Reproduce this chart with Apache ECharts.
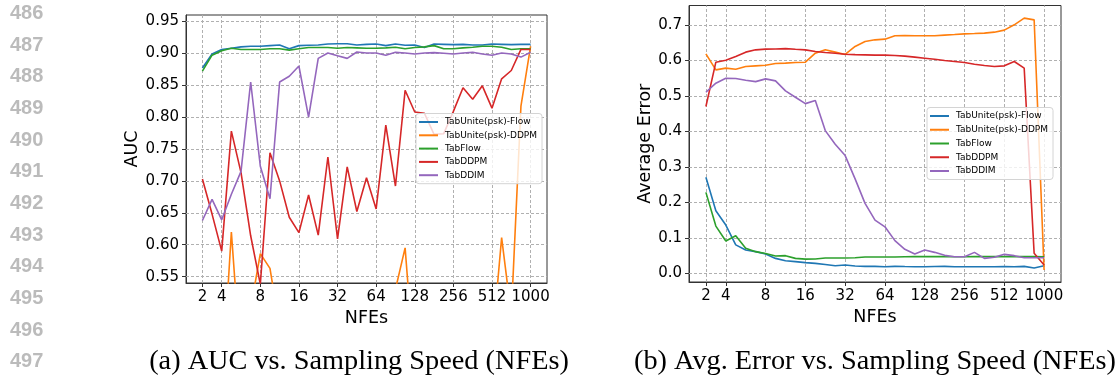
<!DOCTYPE html>
<html>
<head>
<meta charset="utf-8">
<script src="https://cdn.jsdelivr.net/npm/echarts@6/dist/echarts.min.js"></script>
<style>
  html, body { margin: 0; padding: 0; background: #fff; }
  #chart { width: 1116px; height: 383px; }
</style>
</head>
<body>
<div id="chart"></div>
<script>
// x positions are point indices; NFE tick labels sit on some of them
const nfeLabels = ['2', '4', '8', '16', '32', '64', '128', '256', '512', '1000']
const nfeTickIndex = [0, 2, 6, 10, 14, 18, 22, 26, 30, 34]
const seriesNames = ['TabUnite(psk)-Flow', 'TabUnite(psk)-DDPM', 'TabFlow', 'TabDDPM', 'TabDDIM']
const colors = ['#1f77b4', '#ff7f0e', '#2ca02c', '#d62728', '#9467bd']

const aucTicks = [0.55, 0.6, 0.65, 0.7, 0.75, 0.8, 0.85, 0.9, 0.95]
const errTicks = [0, 0.1, 0.2, 0.3, 0.4, 0.5, 0.6, 0.7]

// (a) AUC
const aucUniteFlow = [0.877, 0.899, 0.906, 0.908, 0.910, 0.911, 0.911, 0.912, 0.913, 0.907, 0.912, 0.9125, 0.913, 0.9145, 0.915, 0.915, 0.913, 0.914, 0.9145, 0.912, 0.9145, 0.9125, 0.913, 0.909, 0.9145, 0.914, 0.9135, 0.914, 0.913, 0.913, 0.9145, 0.914, 0.9135, 0.914, 0.914]
const aucUniteDdpm = [0.45, 0.47, 0.37, 0.620, 0.41, 0.50, 0.586, 0.563, 0.47, 0.45, 0.48, 0.46, 0.44, 0.47, 0.45, 0.46, 0.48, 0.45, 0.47, 0.46, 0.53, 0.595, 0.40, 0.45, 0.47, 0.46, 0.44, 0.47, 0.45, 0.46, 0.44, 0.611, 0.49, 0.817, 0.911]
const aucFlow = [0.872, 0.897, 0.904, 0.908, 0.906, 0.906, 0.906, 0.907, 0.907, 0.905, 0.907, 0.909, 0.909, 0.909, 0.908, 0.909, 0.9085, 0.908, 0.908, 0.9085, 0.9095, 0.907, 0.909, 0.910, 0.912, 0.907, 0.907, 0.9085, 0.9095, 0.911, 0.911, 0.9095, 0.906, 0.907, 0.907]
const aucDdpm = [0.703, 0.648, 0.590, 0.778, 0.713, 0.614, 0.538, 0.744, 0.700, 0.643, 0.619, 0.678, 0.615, 0.7375, 0.609, 0.722, 0.652, 0.705, 0.656, 0.7875, 0.692, 0.842, 0.808, 0.806, 0.773, 0.774, 0.809, 0.846, 0.828, 0.849, 0.814, 0.860, 0.873, 0.906, 0.906]
const aucDdim = [0.638, 0.671, 0.639, 0.679, 0.715, 0.855, 0.723, 0.672, 0.855, 0.864, 0.880, 0.800, 0.892, 0.9005, 0.896, 0.892, 0.902, 0.9005, 0.9005, 0.897, 0.9015, 0.9005, 0.899, 0.9005, 0.901, 0.900, 0.899, 0.9005, 0.9015, 0.899, 0.897, 0.9005, 0.899, 0.894, 0.9015]

// (b) average error
const errUniteFlow = [0.2705, 0.176, 0.136, 0.080, 0.0656, 0.061, 0.0543, 0.042, 0.0355, 0.033, 0.030, 0.028, 0.025, 0.0214, 0.0233, 0.0205, 0.0195, 0.0195, 0.0186, 0.0195, 0.019, 0.0186, 0.0186, 0.019, 0.0195, 0.0186, 0.0186, 0.0186, 0.0186, 0.0186, 0.019, 0.0186, 0.0195, 0.0149, 0.0214]
const errUniteDdpm = [0.618, 0.573, 0.578, 0.575, 0.5825, 0.5844, 0.586, 0.591, 0.592, 0.5938, 0.5947, 0.620, 0.6295, 0.623, 0.6164, 0.639, 0.653, 0.6577, 0.6596, 0.669, 0.670, 0.669, 0.669, 0.669, 0.671, 0.6727, 0.6746, 0.6755, 0.6765, 0.6793, 0.685, 0.700, 0.7188, 0.714, 0.0092]
const errFlow = [0.228, 0.133, 0.091, 0.106, 0.0703, 0.061, 0.056, 0.0487, 0.0497, 0.042, 0.040, 0.0405, 0.043, 0.043, 0.043, 0.044, 0.046, 0.046, 0.046, 0.046, 0.0465, 0.047, 0.047, 0.047, 0.047, 0.0465, 0.0465, 0.047, 0.047, 0.047, 0.047, 0.047, 0.047, 0.047, 0.0468]
const errDdpm = [0.470, 0.5947, 0.600, 0.6107, 0.623, 0.6295, 0.6314, 0.632, 0.633, 0.631, 0.6295, 0.625, 0.622, 0.620, 0.617, 0.616, 0.6154, 0.6145, 0.6145, 0.6136, 0.6117, 0.609, 0.606, 0.603, 0.5994, 0.5966, 0.5938, 0.589, 0.5853, 0.5825, 0.5844, 0.5966, 0.5778, 0.0562, 0.0233]
const errDdim = [0.510, 0.5355, 0.5496, 0.5487, 0.544, 0.540, 0.5477, 0.542, 0.514, 0.496, 0.478, 0.4867, 0.402, 0.3635, 0.3316, 0.266, 0.197, 0.150, 0.131, 0.092, 0.0675, 0.0543, 0.0656, 0.059, 0.0506, 0.0468, 0.0468, 0.059, 0.042, 0.045, 0.0534, 0.0497, 0.044, 0.044, 0.044]

const aucSeries = [aucUniteFlow, aucUniteDdpm, aucFlow, aucDdpm, aucDdim]
const errSeries = [errUniteFlow, errUniteDdpm, errFlow, errDdpm, errDdim]

const lineNumbers = ['486', '487', '488', '489', '490', '491', '492', '493', '494', '495', '496', '497']
const captions = ['(a) AUC vs. Sampling Speed (NFEs)', '(b) Avg. Error vs. Sampling Speed (NFEs)']

const FONT = 'DejaVu Sans'
const gridStyle = { color: '#b0b0b0', type: [3, 2], width: 1, opacity: 1 }

function xAxisFor(gridIndex) {
  return {
    type: 'value', gridIndex, min: -1.7, max: 35.7,
    name: 'NFEs', nameLocation: 'middle', nameGap: 25,
    nameTextStyle: { fontFamily: FONT, fontSize: 17.5, color: '#000' },
    axisLine: { show: true, onZero: false, lineStyle: { color: '#333' } },
    axisTick: { show: true, length: 4, customValues: nfeTickIndex, lineStyle: { color: '#333' } },
    axisLabel: {
      customValues: nfeTickIndex, margin: 7, fontFamily: FONT, fontSize: 15, color: '#000',
      formatter: v => nfeLabels[nfeTickIndex.indexOf(v)]
    },
    splitLine: { show: false }
  }
}

function yAxisFor(gridIndex, name, min, max, ticks, digits, gap) {
  return {
    type: 'value', gridIndex, min, max,
    name, nameLocation: 'middle', nameGap: gap,
    nameTextStyle: { fontFamily: FONT, fontSize: 17.5, color: '#000' },
    axisLine: { show: true, onZero: false, lineStyle: { color: '#333' } },
    axisTick: { show: true, length: 4, customValues: ticks, lineStyle: { color: '#333' } },
    axisLabel: {
      customValues: ticks, margin: 7, fontFamily: FONT, fontSize: 15, color: '#000',
      formatter: v => v.toFixed(digits)
    },
    splitLine: { show: false }
  }
}

// dashed grid drawn as mark lines at the tick values, kept under the data lines
function gridMarks(yTicks) {
  return {
    silent: true, symbol: 'none', label: { show: false }, animation: false, z: 1,
    lineStyle: gridStyle,
    data: [...nfeTickIndex.map(v => ({ xAxis: v })), ...yTicks.map(v => ({ yAxis: v }))]
  }
}

function lineSeries(values, k, axisIndex, yTicks) {
  const s = {
    name: seriesNames[k], type: 'line', z: 2,
    xAxisIndex: axisIndex, yAxisIndex: axisIndex,
    data: values.map((v, i) => [i, v]),
    symbol: 'none', showSymbol: false, clip: true,
    lineStyle: { color: colors[k], width: 1.6 },
    itemStyle: { color: colors[k] },
    emphasis: { disabled: true }
  }
  if (k === 0) s.markLine = gridMarks(yTicks)
  return s
}

function legendFor(left, top, gap) {
  return {
    data: seriesNames.map(name => ({ name, icon: 'rect' })),
    orient: 'vertical', left, top, z: 10,
    itemWidth: 19, itemHeight: 2, itemGap: gap,
    padding: [4, 5, 4, 3],
    backgroundColor: 'rgba(255,255,255,0.8)',
    borderColor: '#d4d4d4', borderWidth: 1, borderRadius: 3,
    textStyle: { fontFamily: FONT, fontSize: 9, lineHeight: 9, color: '#000', padding: [0, 0, 0, 2] }
  }
}

const graphics = lineNumbers.map((t, k) => ({
  type: 'text', x: 10, y: 13.5 + k * 31.65, silent: true,
  style: {
    text: t, fill: '#bbbbbb', font: 'bold 20px "Liberation Sans"',
    textAlign: 'left', align: 'left', textVerticalAlign: 'middle', verticalAlign: 'middle'
  }
}))
const captionX = [359, 875]
captions.forEach((t, k) => graphics.push({
  type: 'text', x: captionX[k], y: 362, silent: true,
  style: {
    text: t, fill: '#000', font: '28.3px "Liberation Serif"',
    textAlign: 'center', align: 'center', textVerticalAlign: 'middle', verticalAlign: 'middle'
  }
}))

const chart = echarts.init(document.getElementById('chart'))
chart.setOption({
  animation: false,
  backgroundColor: '#fff',
  grid: [
    { left: 186, top: 15, width: 361, height: 268, show: true, borderColor: '#333', borderWidth: 1, outerBoundsMode: 'none' },
    { left: 689, top: 5.5, width: 372, height: 276.5, show: true, borderColor: '#333', borderWidth: 1, outerBoundsMode: 'none' }
  ],
  xAxis: [xAxisFor(0), xAxisFor(1)],
  yAxis: [
    yAxisFor(0, 'AUC', 0.54, 0.96, aucTicks, 2, 45),
    yAxisFor(1, 'Average Error', -0.0245, 0.7544, errTicks, 1, 35)
  ],
  legend: [legendFor(416, 113.5, 4.3), legendFor(927, 107.5, 4.75)],
  series: [
    ...aucSeries.map((s, k) => lineSeries(s, k, 0, aucTicks)),
    ...errSeries.map((s, k) => lineSeries(s, k, 1, errTicks))
  ],
  graphic: graphics
})
</script>
</body>
</html>
